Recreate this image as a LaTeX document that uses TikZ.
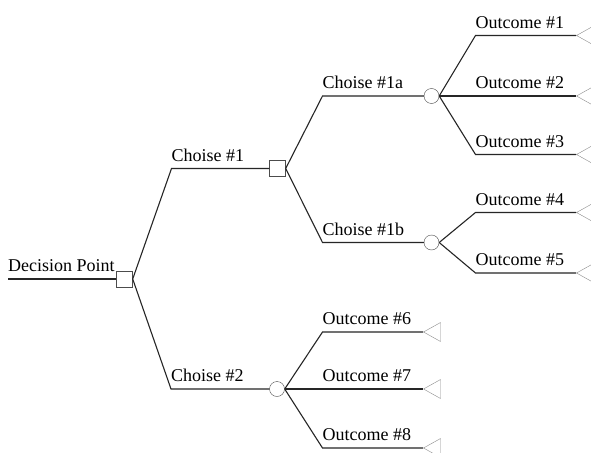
\documentclass[tikz,border=0pt]{standalone}
\usepackage{fontspec}
\setmainfont{Liberation Serif}
\usetikzlibrary{shapes.geometric}
\tikzset{
    decision-box/.style = {draw=black!70, fill=white, thin, rectangle, minimum size=16pt, inner sep=0pt},
    chance-circle/.style = {draw=black!70, fill=white, thin, circle, minimum size=15pt, inner sep=0pt},
    end-triangle/.style = {draw=black!45, fill=white, thin, isosceles triangle, shape border rotate=180, isosceles triangle stretches, minimum width=19pt, minimum height=17pt, inner sep=0pt, anchor=apex},
    branch/.style = {line width=1.1pt, black!85},
    branch-label/.style = {anchor=south west, inner xsep=0pt, inner ysep=7pt, font=\fontsize{18}{20}\selectfont},
}

\begin{document}
\begin{tikzpicture}[x=1pt, y=-1pt]
\clip (0,0) rectangle (591,452);
\fill[white] (0,0) rectangle (591,452);
% decision point
\coordinate (start) at (8,279);
\node[decision-box] (dp) at (124.5,279) {};
\draw[branch] (start) -- (dp.west);
\node[branch-label] (dp-label) at (start) {Decision Point};
% first level
\coordinate (b1) at (171.5,168.5);
\node[decision-box] (d1) at (277.5,168.5) {};
\coordinate (b2) at (171,389);
\node[chance-circle] (c2) at (277,389) {};
\draw[branch] (dp.east) -- (b1) -- (d1.west);
\draw[branch] (dp.east) -- (b2) -- (c2.west);
\node[branch-label] (b1-label) at (b1) {Choise \#1};
\node[branch-label] (b2-label) at (b2) {Choise \#2};
% second level
\coordinate (b1a) at (322.5,96);
\node[chance-circle] (c1a) at (431.5,96) {};
\coordinate (b1b) at (322.5,242.5);
\node[chance-circle] (c1b) at (431.5,242.5) {};
\draw[branch] (d1.east) -- (b1a) -- (c1a.west);
\draw[branch] (d1.east) -- (b1b) -- (c1b.west);
\node[branch-label] (b1a-label) at (b1a) {Choise \#1a};
\node[branch-label] (b1b-label) at (b1b) {Choise \#1b};
% outcomes of 1a
\coordinate (o1) at (475.5,35.5);
\coordinate (o2) at (475.5,96);
\coordinate (o3) at (475.5,154.5);
\node[end-triangle] (t1) at (576,35.5) {};
\node[end-triangle] (t2) at (576,96) {};
\node[end-triangle] (t3) at (576,154.5) {};
\draw[branch] (c1a.east) -- (o1) -- (t1.apex);
\draw[branch] (c1a.east) -- (o2) -- (t2.apex);
\draw[branch] (c1a.east) -- (o3) -- (t3.apex);
\node[branch-label] (o1-label) at (o1) {Outcome \#1};
\node[branch-label] (o2-label) at (o2) {Outcome \#2};
\node[branch-label] (o3-label) at (o3) {Outcome \#3};
% outcomes of 1b
\coordinate (o4) at (475.5,212.5);
\coordinate (o5) at (475.5,273);
\node[end-triangle] (t4) at (576,212.5) {};
\node[end-triangle] (t5) at (576,273) {};
\draw[branch] (c1b.east) -- (o4) -- (t4.apex);
\draw[branch] (c1b.east) -- (o5) -- (t5.apex);
\node[branch-label] (o4-label) at (o4) {Outcome \#4};
\node[branch-label] (o5-label) at (o5) {Outcome \#5};
% outcomes of 2
\coordinate (o6) at (322.5,332);
\coordinate (o7) at (322.5,389);
\coordinate (o8) at (322.5,448);
\node[end-triangle] (t6) at (423,332) {};
\node[end-triangle] (t7) at (423,389) {};
\node[end-triangle] (t8) at (423,448) {};
\draw[branch] (c2.east) -- (o6) -- (t6.apex);
\draw[branch] (c2.east) -- (o7) -- (t7.apex);
\draw[branch] (c2.east) -- (o8) -- (t8.apex);
\node[branch-label] (o6-label) at (o6) {Outcome \#6};
\node[branch-label] (o7-label) at (o7) {Outcome \#7};
\node[branch-label] (o8-label) at (o8) {Outcome \#8};
\end{tikzpicture}
\end{document}
